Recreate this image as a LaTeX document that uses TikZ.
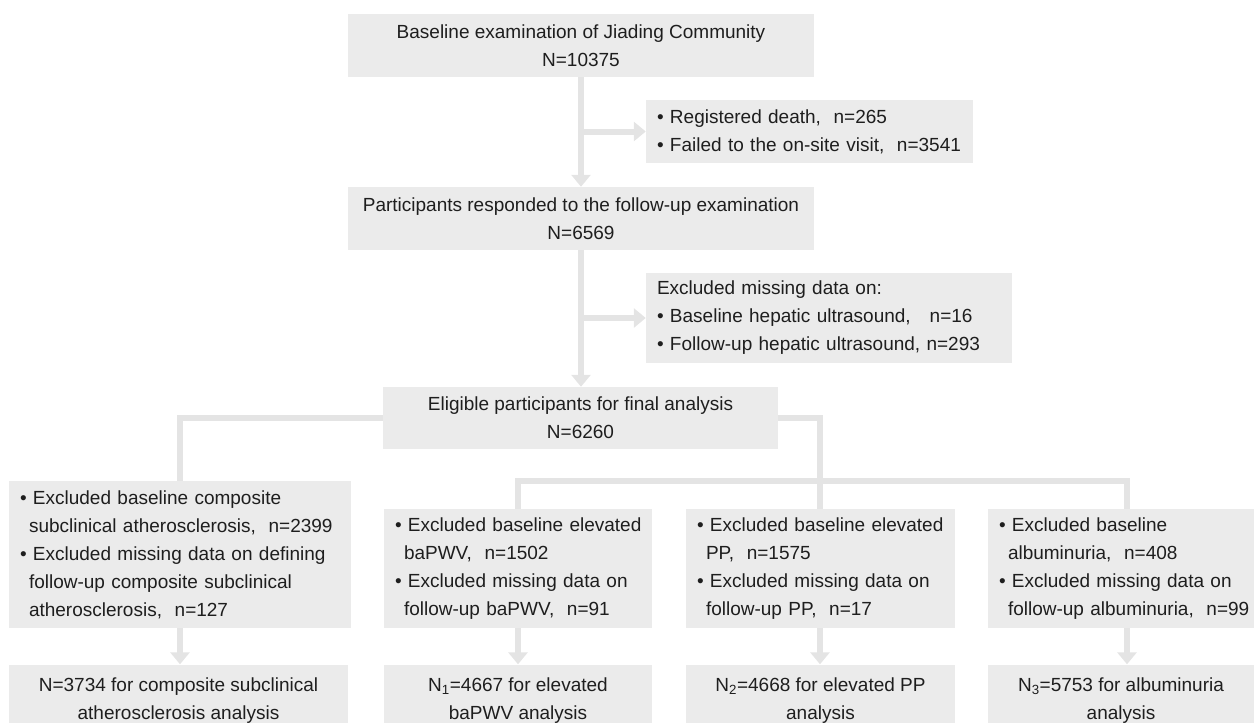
\documentclass[tikz,border=0pt]{standalone}
\usepackage{fontspec}
\setmainfont{Liberation Sans}
\usetikzlibrary{arrows.meta}
\definecolor{boxgray}{RGB}{235,235,235}
\definecolor{linegray}{RGB}{228,228,228}
\definecolor{txt}{RGB}{30,30,30}
\newcommand{\cind}{\hspace*{9pt}}
\newcommand{\lowstrut}{\rule{0pt}{27pt}}
\begin{document}
\begin{tikzpicture}[x=1pt,y=-1pt,
  box/.style={fill=boxgray, draw=none, inner ysep=0pt, inner xsep=11pt,
    font=\fontsize{19}{28}\selectfont, text=txt},
  cbox/.style={box, align=center},
  lbox/.style={box, align=left},
  conn/.style={draw=linegray, line width=6pt},
  arr/.style={conn, -{Triangle[width=19pt,length=12pt]}}]
\useasboundingbox (0,0) rectangle (1254,723);

% top part
\node[cbox, minimum width=466pt, minimum height=63pt] (top) at (581,45.5)
  {Baseline examination of Jiading Community\\N=10375};
\node[lbox, text width=305pt, minimum height=63pt] (ex1) at (809.5,131.5)
  {\mbox{• Registered death,~ n=265}\\\mbox{• Failed to the on-site visit,~ n=3541}};
\node[cbox, minimum width=466pt, minimum height=63pt] (part) at (581,218.5)
  {Participants responded to the follow-up examination\\N=6569};
\node[lbox, text width=344pt, minimum height=90pt] (ex2) at (829,318)
  {\mbox{Excluded missing data on:}\\\mbox{• Baseline hepatic ultrasound,~~ n=16}\\\mbox{• Follow-up hepatic ultrasound, n=293}};
\node[cbox, minimum width=395pt, minimum height=62pt] (elig) at (580.5,418)
  {Eligible participants for final analysis\\N=6260};

% middle row
\node[lbox, text width=320pt, minimum height=147pt] (comp) at (180,554.5)
  {\mbox{• Excluded baseline composite}\\
   \mbox{\cind subclinical atherosclerosis,~ n=2399}\\
   \mbox{• Excluded missing data on defining}\\
   \mbox{\cind follow-up composite subclinical}\\
   \mbox{\cind atherosclerosis,~ n=127}};
\node[lbox, text width=246pt, minimum height=119pt] (bap) at (518,568.5)
  {\mbox{• Excluded baseline elevated}\\
   \mbox{\cind baPWV,~ n=1502}\\
   \mbox{• Excluded missing data on}\\
   \mbox{\cind follow-up baPWV,~ n=91}};
\node[lbox, text width=247pt, minimum height=119pt] (pp) at (820.5,568.5)
  {\mbox{• Excluded baseline elevated}\\
   \mbox{\cind PP,~ n=1575}\\
   \mbox{• Excluded missing data on}\\
   \mbox{\cind follow-up PP,~ n=17}};
\node[lbox, text width=244pt, minimum height=119pt] (alb) at (1121,568.5)
  {\mbox{• Excluded baseline}\\
   \mbox{\cind albuminuria,~ n=408}\\
   \mbox{• Excluded missing data on}\\
   \mbox{\cind follow-up albuminuria,~ n=99}};

% bottom row
\node[cbox, minimum width=339pt, minimum height=58pt] (compN) at (178.5,694)
  {\lowstrut N=3734 for composite subclinical\\atherosclerosis analysis};
\node[cbox, minimum width=268pt, minimum height=58pt] (bapN) at (518,694)
  {\lowstrut N\textsubscript{1}=4667 for elevated\\baPWV analysis};
\node[cbox, minimum width=269pt, minimum height=58pt] (ppN) at (820.5,694)
  {\lowstrut N\textsubscript{2}=4668 for elevated PP\\analysis};
\node[cbox, minimum width=266pt, minimum height=58pt] (albN) at (1121,694)
  {\lowstrut N\textsubscript{3}=5753 for albuminuria\\analysis};

% connectors
\draw[arr] (top.south) -- (part.north);
\draw[arr] (top.south |- ex1.west) -- (ex1.west);
\draw[arr] (part.south) -- (part.south |- elig.north);
\draw[arr] (part.south |- ex2.west) -- (ex2.west);
\draw[conn] (elig.west) -| (comp.north);
\draw[conn] (elig.east) -| ([xshift=-0.5pt]pp.north);
\draw[conn] (bap.north) -- ++(0,-28) -| ([xshift=6pt]alb.north);
\draw[arr] (comp.south) -- (comp.south |- compN.north);
\draw[arr] (bap.south) -- (bapN.north);
\draw[arr] ([xshift=-0.5pt]pp.south) -- ([xshift=-0.5pt]pp.south |- ppN.north);
\draw[arr] ([xshift=6pt]alb.south) -- ([xshift=6pt]alb.south |- albN.north);
\end{tikzpicture}
\end{document}
